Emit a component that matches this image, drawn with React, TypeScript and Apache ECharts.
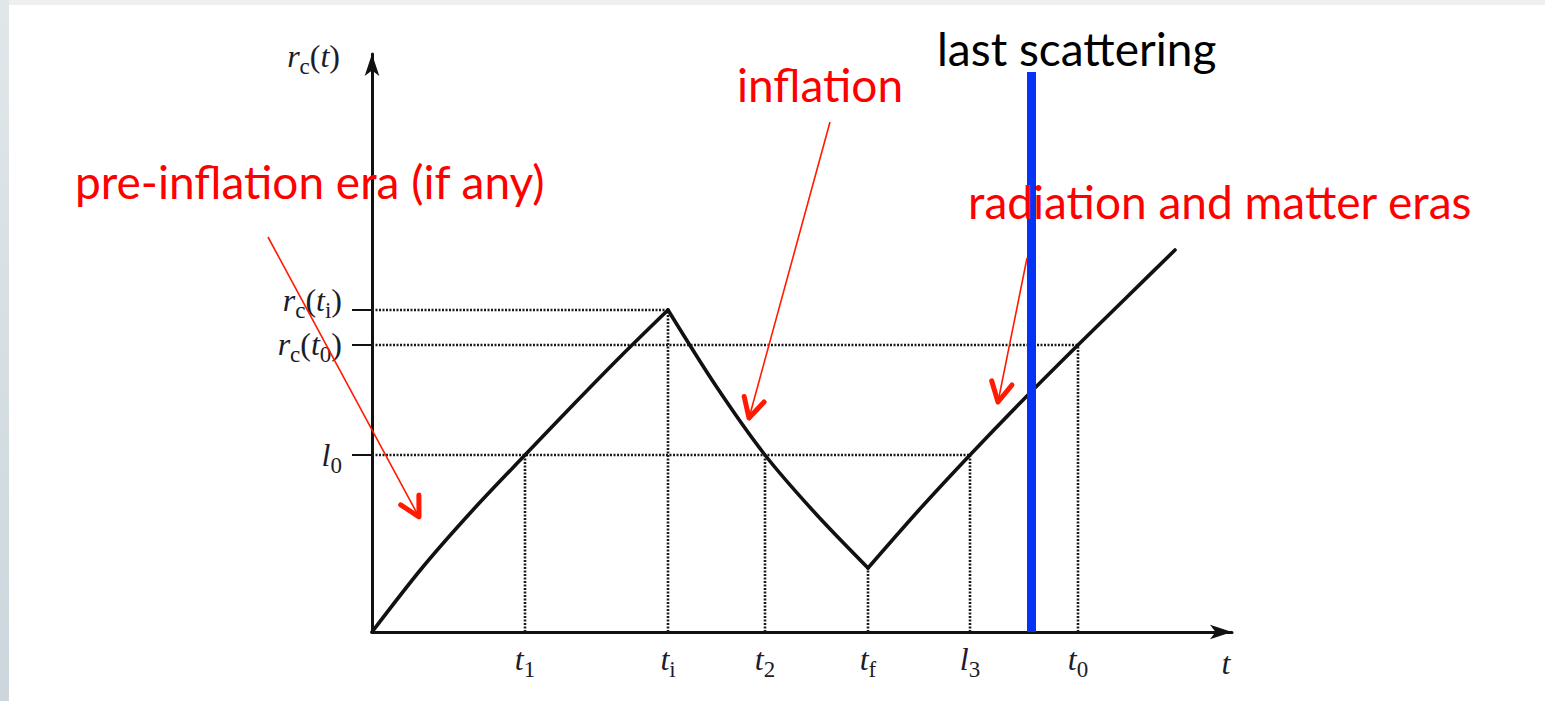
import { useEffect, useRef } from "react";
import * as echarts from "echarts";

// Marked epochs along the time axis (arbitrary units) and r_c at each of them
const epochNames = ["t_1", "t_i", "t_2", "t_f", "l_3", "t_0"];
const epochT = [1.53, 2.96, 3.93, 4.96, 5.98, 7.06];
const epochR = [1.77, 3.22, 1.77, 0.64, 1.77, 2.87];

// Reference levels on the r_c axis
const levelNames = ["r_c(t_i)", "r_c(t_0)", "l_0"];
const levelValues = [3.22, 2.87, 1.77];

// Comoving Hubble radius r_c(t): pre-inflation rise, inflation fall, radiation/matter rise
const curveT = [0, 0.5, 1.0, 1.53, 2.0, 2.5, 2.96, 3.44, 3.93, 4.44, 4.96, 5.47, 5.98, 6.52, 7.06, 7.55, 8.03];
const curveR = [0, 0.64, 1.21, 1.77, 2.26, 2.77, 3.22, 2.46, 1.77, 1.18, 0.64, 1.22, 1.77, 2.33, 2.87, 3.35, 3.82];
// where the curve changes direction (start and end of inflation)
const kinkT = [2.96, 4.96];

// Last scattering marker
const lastScatteringT = 6.595;
const lastScatteringTop = 5.6;

const X_MAX = 8.6;
const Y_MAX = 5.78;

const SERIF = '"Liberation Serif", "DejaVu Serif", serif';
const SANS = 'Lato, "Open Sans", sans-serif';
const INK = "#1c1c2a";
const RED = "#ff0000";
const ARROW_RED = "#ff1a00";

// labels whose glyphs sit lower than their tick
const droppedLabels = new Set(["l_0"]);
// the two upper levels are close together, so they live on two overlaid y axes
const levelAxisGroups = [[0, 2], [1]];
// bottom padding per axis: more padding lifts that axis's labels
const levelAxisLift = [30, 12];

// turn "r_c(t_i)" into rich-text tokens: italic letters, roman subscripts and brackets
function toRich(s: string, low = false): string {
  const v = low ? "V" : "v";
  const p = low ? "P" : "p";
  const sub = low ? "S" : "s";
  let out = "";
  for (let i = 0; i < s.length; i++) {
    const ch = s[i];
    if (ch === "_") {
      out += `{${sub}|${s[i + 1]}}`;
      i++;
    } else if (/[a-z]/i.test(ch)) {
      out += `{${v}|${ch}}`;
    } else {
      out += `{${p}|${ch}}`;
    }
  }
  return out;
}

const MAIN = 32;
const SUB = 23;
const DROP = 10;
const base = { fontFamily: SERIF, color: INK, verticalAlign: "top" };
const rich = {
  v: { ...base, fontStyle: "italic", fontSize: MAIN, lineHeight: 22 },
  p: { ...base, fontSize: MAIN, lineHeight: 22 },
  s: { ...base, fontSize: SUB, lineHeight: 14, padding: [15, 0, 0, 0] },
  V: { ...base, fontStyle: "italic", fontSize: MAIN, lineHeight: 22, padding: [DROP, 0, 0, 0] },
  P: { ...base, fontSize: MAIN, lineHeight: 22, padding: [DROP, 0, 0, 0] },
  S: { ...base, fontSize: SUB, lineHeight: 14, padding: [15 + DROP, 0, 0, 0] },
};

function labelFor(values: number[], names: string[], v: number): string {
  const i = values.findIndex((x) => Math.abs(x - v) < 1e-6);
  return i >= 0 ? toRich(names[i], droppedLabels.has(names[i])) : "";
}

// thin annotation arrow with a thick V-shaped head
function arrow(x1: number, y1: number, x2: number, y2: number) {
  const dx = x2 - x1;
  const dy = y2 - y1;
  const L = Math.hypot(dx, dy);
  const ux = dx / L;
  const uy = dy / L;
  const len = 22;
  const arm = (a: number) => [
    x2 - len * (ux * Math.cos(a) - uy * Math.sin(a)),
    y2 - len * (ux * Math.sin(a) + uy * Math.cos(a)),
  ];
  const a = (28 * Math.PI) / 180;
  return [
    { type: "line", shape: { x1, y1, x2, y2 }, style: { stroke: ARROW_RED, lineWidth: 1.6 }, z: 10 },
    {
      type: "polyline",
      shape: { points: [arm(a), [x2, y2], arm(-a)] },
      style: { stroke: ARROW_RED, lineWidth: 5, fill: null, lineCap: "round", lineJoin: "round" },
      z: 10,
    },
  ];
}

function noteText(text: string, x: number, y: number, color: string) {
  return {
    type: "text",
    x,
    y,
    z: 10,
    style: { text, fontFamily: SANS, fontSize: 46, fill: color, verticalAlign: "middle" },
  };
}

export default function App() {
  const ref = useRef<HTMLDivElement>(null);

  useEffect(() => {
    if (!ref.current) return;
    const chart = echarts.init(ref.current, null, { renderer: "svg" });

    const guideStyle = { color: "#1a1a1a", width: 2.6, type: [2, 1.5] };
    const guides: any[] = [];
    epochT.forEach((t, i) => {
      guides.push({
        type: "line",
        data: [[t, 0], [t, epochR[i]]],
        symbol: "none",
        silent: true,
        lineStyle: guideStyle,
        z: 1,
      });
    });
    levelValues.forEach((lv) => {
      const xs = epochT.filter((_, i) => epochR[i] === lv);
      guides.push({
        type: "line",
        data: [[0, lv], [Math.max(...xs), lv]],
        symbol: "none",
        silent: true,
        lineStyle: guideStyle,
        z: 1,
      });
    });

    // split the curve at its two kinks so each era is smoothed on its own
    const pts = curveT.map((t, i) => [t, curveR[i]]);
    const bounds = [-Infinity, ...kinkT, Infinity];
    const segments: any[] = [];
    for (let k = 0; k < bounds.length - 1; k++) {
      const seg = pts.filter((p) => p[0] >= bounds[k] && p[0] <= bounds[k + 1]);
      segments.push({
        type: "line",
        data: seg,
        symbol: "none",
        silent: true,
        smooth: 0.3,
        lineStyle: { color: "#111", width: 3.6, join: "round", cap: "round" },
        z: 3,
      });
    }

    const yAxes = levelAxisGroups.map((group, k) => {
      const vals = group.map((i) => levelValues[i]);
      return {
        type: "value",
        position: "left",
        min: 0,
        max: Y_MAX,
        name: k === 0 ? toRich("r_c(t)") : "",
        nameLocation: "end",
        nameGap: 3,
        nameTextStyle: { rich, align: "right", verticalAlign: "middle", padding: [0, 32, 0, 0] },
        axisLine: {
          show: k === 0,
          symbol: ["none", "arrow"],
          symbolSize: [11, 22],
          lineStyle: { color: "#111", width: 3 },
        },
        axisTick: {
          show: true,
          customValues: vals,
          length: 20,
          lineStyle: { color: "#111", width: 2 },
        },
        splitLine: { show: false },
        axisLabel: {
          customValues: vals,
          margin: 30,
          hideOverlap: false,
          showMinLabel: true,
          showMaxLabel: true,
          rich,
          padding: [0, 0, levelAxisLift[k], 0],
          formatter: (v: number) => labelFor(levelValues, levelNames, v),
        },
      };
    });

    chart.setOption({
      animation: false,
      backgroundColor: "#ffffff",
      grid: { left: 372, top: 54, width: 860, height: 578, outerBoundsMode: "none" },
      xAxis: {
        type: "value",
        min: 0,
        max: X_MAX,
        name: toRich("t"),
        nameLocation: "end",
        nameGap: -6,
        nameTextStyle: { rich, align: "center", verticalAlign: "top", padding: [15, 0, 0, 0] },
        axisLine: {
          show: true,
          symbol: ["none", "arrow"],
          symbolSize: [11, 22],
          lineStyle: { color: "#111", width: 3 },
        },
        axisTick: { show: false },
        splitLine: { show: false },
        axisLabel: {
          customValues: epochT,
          margin: 11,
          hideOverlap: false,
          showMinLabel: true,
          showMaxLabel: true,
          rich,
          formatter: (v: number) => labelFor(epochT, epochNames, v),
        },
      },
      yAxis: yAxes,
      series: [
        ...guides,
        ...segments,
        {
          type: "line",
          data: [[lastScatteringT, 0], [lastScatteringT, lastScatteringTop]],
          symbol: "none",
          silent: true,
          lineStyle: { color: "#0533f5", width: 9, cap: "butt" },
          z: 5,
        },
      ],
      graphic: [
        { type: "rect", shape: { x: 0, y: 0, width: 1545, height: 5 }, style: { fill: "#eeeff1" }, silent: true },
        {
          type: "rect",
          shape: { x: 0, y: 0, width: 9, height: 701 },
          style: {
            fill: new echarts.graphic.LinearGradient(0, 0, 0, 1, [
              { offset: 0, color: "#e1e7e9" },
              { offset: 1, color: "#ccd6dc" },
            ]),
          },
          silent: true,
        },
        noteText("last scattering", 937, 48, "#000000"),
        noteText("inflation", 737, 84, RED),
        noteText("pre-inflation era (if any)", 75, 181, RED),
        noteText("radiation and matter eras", 968, 201, RED),
        ...arrow(268, 237, 419, 517),
        ...arrow(830, 122, 749, 418),
        ...arrow(1027, 258, 998, 402),
      ],
    });

    return () => chart.dispose();
  }, []);

  return (
    <div
      ref={ref}
      style={{ position: "fixed", left: 0, top: 0, width: 1545, height: 701, background: "#fff" }}
    />
  );
}
